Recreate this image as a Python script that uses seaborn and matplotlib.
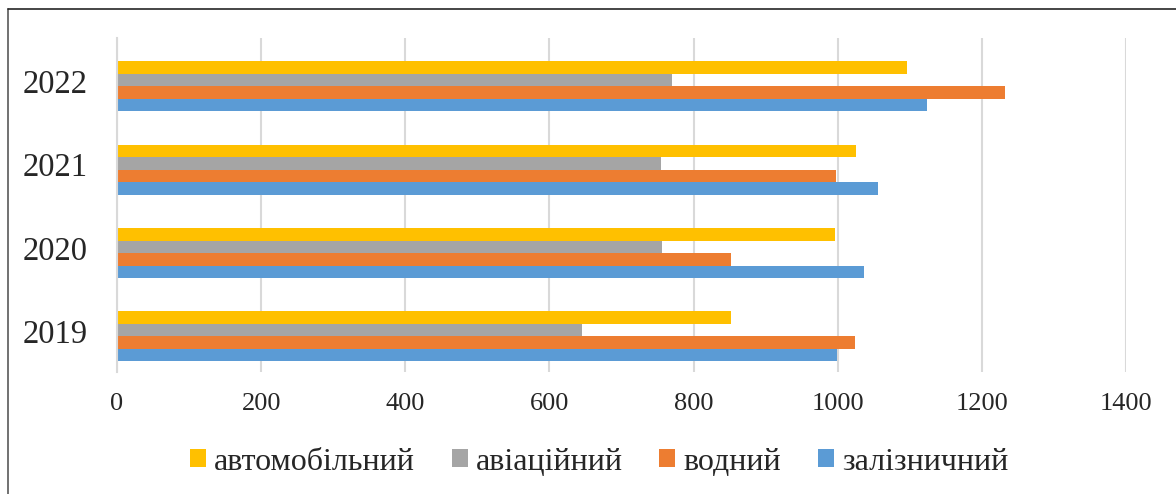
import matplotlib
matplotlib.use("Agg")
import matplotlib.pyplot as plt
import matplotlib.transforms as mtransforms
from matplotlib.lines import Line2D
from matplotlib.patches import Patch
import seaborn as sns
import pandas as pd

years = ["2022", "2021", "2020", "2019"]
transport = ["автомобільний", "авіаційний", "водний", "залізничний"]
road = [1096, 1025, 996, 852]
air = [770, 755, 756, 645]
water = [1232, 997, 852, 1024]
rail = [1124, 1056, 1036, 999]
colors = ["#FFC000", "#A5A5A5", "#ED7D31", "#5B9BD5"]
x_ticks = [0, 200, 400, 600, 800, 1000, 1200, 1400]

series = dict(zip(transport, [road, air, water, rail]))
df = pd.DataFrame(
    [(y, t, series[t][i]) for t in transport for i, y in enumerate(years)],
    columns=["year", "type", "value"],
)

sns.set_theme(style="white")
plt.rcParams["font.family"] = ["Liberation Serif", "DejaVu Serif"]

fig = plt.figure(figsize=(11.76, 4.94), dpi=100)
ax = fig.add_axes([117 / 1176, 1 - 372 / 494, (1126 - 117) / 1176, (372 - 38) / 494])

sns.barplot(
    data=df, x="value", y="year", hue="type", order=years, hue_order=transport,
    palette=colors, orient="h", width=0.6, saturation=1, linewidth=0,
    legend=False, ax=ax,
)

ax.set_xlim(0, 1400)
ax.set_ylim(3.426, -0.58)
ax.set_xticks(x_ticks)
ax.set_xticklabels([str(v) for v in x_ticks], fontsize=19)
ax.tick_params(axis="y", labelsize=23.5, pad=21, length=0)
ax.tick_params(axis="x", pad=15, length=0)
ax.set_xlabel("")
ax.set_ylabel("")
ax.grid(axis="x", color="#D9D9D9", linewidth=1.5)
ax.set_axisbelow(True)
for side in ["top", "right", "bottom"]:
    ax.spines[side].set_visible(False)
ax.spines["left"].set_color("#D9D9D9")
ax.spines["left"].set_linewidth(1.5)

# year labels sit slightly above the centre of each bar group
lift = mtransforms.ScaledTranslation(0, 5 / 100, fig.dpi_scale_trans)
for lbl in ax.get_yticklabels():
    lbl.set_transform(lbl.get_transform() + lift)

handles = [Patch(facecolor=c, edgecolor="none") for c in colors]
fig.legend(
    handles, transport, loc="center", bbox_to_anchor=(599 / 1176, 1 - 462 / 494),
    ncol=4, frameon=False, fontsize=23, handlelength=0.5, handleheight=0.5,
    handletextpad=0.25, columnspacing=1.15,
)

# outer frame (left and top edges)
fig.add_artist(Line2D([8 / 1176, 8 / 1176], [0, 1 - 9 / 494], transform=fig.transFigure,
                      color="#595959", linewidth=1.2))
fig.add_artist(Line2D([8 / 1176, 1], [1 - 9 / 494, 1 - 9 / 494], transform=fig.transFigure,
                      color="#262626", linewidth=1.2))

fig.savefig("out.png", dpi=100)
